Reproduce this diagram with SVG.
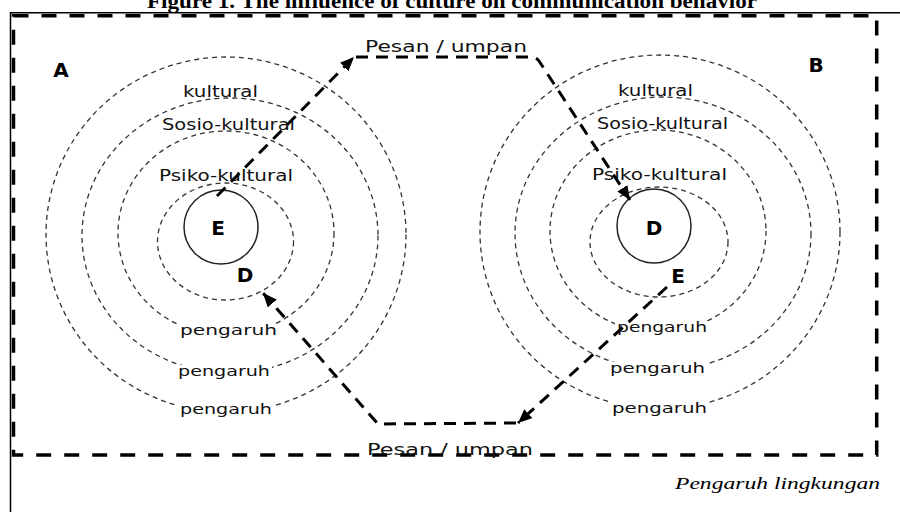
<svg xmlns="http://www.w3.org/2000/svg" width="900" height="512" viewBox="0 0 900 512">
<style>
.ring{fill:none;stroke:#333;stroke-width:1.3;stroke-dasharray:5 4}
.core{fill:none;stroke:#222;stroke-width:1.5}
.lbl{font-family:"DejaVu Sans",Verdana,sans-serif;font-size:15px;fill:#111}
.pg{font-family:"DejaVu Sans",Verdana,sans-serif;font-size:14px;fill:#111}
.big{font-family:"DejaVu Sans",Verdana,sans-serif;font-size:20px;font-weight:bold;fill:#000}
.msg{font-family:"DejaVu Sans",Verdana,sans-serif;font-size:15px;fill:#111}
.conn{fill:none;stroke:#000;stroke-width:3;stroke-dasharray:12 8}
.bg{fill:#fff}
</style>
<defs>
<marker id="ah" markerWidth="16" markerHeight="12" refX="14" refY="6" orient="auto" markerUnits="userSpaceOnUse">
<path d="M0,0 L14,6 L0,12 z" fill="#000"/>
</marker>
</defs>
<rect width="900" height="512" fill="#fff"/>
<text x="452" y="8" text-anchor="middle" font-family="Liberation Serif, serif" font-size="20" font-weight="bold" textLength="610" lengthAdjust="spacingAndGlyphs">Figure 1. The influence of culture on communication behavior</text>
<path d="M10.5,512 V12.7 H900" fill="none" stroke="#000" stroke-width="1.5"/>
<rect x="13.5" y="15.7" width="863.2" height="439.3" fill="none" stroke="#000" stroke-width="3.5" stroke-dasharray="15 13"/>

<g id="nodeA">
<ellipse class="ring" cx="226" cy="234.5" rx="180" ry="177.5"/>
<ellipse class="ring" cx="230" cy="235.5" rx="148" ry="137.5"/>
<ellipse class="ring" cx="226" cy="233" rx="108" ry="102"/>
<ellipse class="ring" cx="225.5" cy="241.5" rx="68" ry="58.5"/>
<circle class="core" cx="221" cy="227" r="37"/>
<text class="big" x="61" y="77" text-anchor="middle">A</text>
<text class="big" x="218" y="235" text-anchor="middle">E</text>
<text class="big" x="245" y="282" text-anchor="middle">D</text>
<text class="lbl" x="183" y="97" textLength="75" lengthAdjust="spacingAndGlyphs">kultural</text>
<text class="lbl" x="162" y="130" textLength="133" lengthAdjust="spacingAndGlyphs">Sosio-kultural</text>
<text class="lbl" x="159" y="181" textLength="134" lengthAdjust="spacingAndGlyphs">Psiko-kultural</text>
<rect class="bg" x="178" y="324" width="101" height="14"/>
<rect class="bg" x="176" y="365" width="96" height="14"/>
<rect class="bg" x="178" y="403" width="96" height="14"/>
<text class="pg" x="180" y="335" textLength="97" lengthAdjust="spacingAndGlyphs">pengaruh</text>
<text class="pg" x="178" y="376" textLength="92" lengthAdjust="spacingAndGlyphs">pengaruh</text>
<text class="pg" x="180" y="414" textLength="92" lengthAdjust="spacingAndGlyphs">pengaruh</text>
</g>

<g id="nodeB">
<ellipse class="ring" cx="660" cy="232" rx="180" ry="177"/>
<ellipse class="ring" cx="663" cy="233.5" rx="148" ry="136.5"/>
<ellipse class="ring" cx="658" cy="231" rx="108" ry="101"/>
<ellipse class="ring" cx="659" cy="242" rx="69" ry="55"/>
<circle class="core" cx="654" cy="226" r="37"/>
<text class="big" x="816" y="72" text-anchor="middle">B</text>
<text class="big" x="654" y="235" text-anchor="middle">D</text>
<text class="big" x="678" y="283" text-anchor="middle">E</text>
<text class="lbl" x="618" y="96" textLength="75" lengthAdjust="spacingAndGlyphs">kultural</text>
<text class="lbl" x="597" y="129" textLength="131" lengthAdjust="spacingAndGlyphs">Sosio-kultural</text>
<text class="lbl" x="592" y="180" textLength="135" lengthAdjust="spacingAndGlyphs">Psiko-kultural</text>
<rect class="bg" x="615" y="321" width="94" height="14"/>
<rect class="bg" x="608" y="362" width="99" height="14"/>
<rect class="bg" x="610" y="402" width="99" height="14"/>
<text class="pg" x="617" y="332" textLength="90" lengthAdjust="spacingAndGlyphs">pengaruh</text>
<text class="pg" x="610" y="373" textLength="95" lengthAdjust="spacingAndGlyphs">pengaruh</text>
<text class="pg" x="612" y="413" textLength="95" lengthAdjust="spacingAndGlyphs">pengaruh</text>
</g>

<g id="connectors">
<path class="conn" d="M217,196 L354,57" marker-end="url(#ah)"/>
<path class="conn" d="M356,57 L533,57 Q537,58 539,61 L630,200" marker-end="url(#ah)"/>
<path class="conn" d="M667,287 L518,423" marker-end="url(#ah)"/>
<path class="conn" d="M516,423 L378,424 L263,293" marker-end="url(#ah)"/>
</g>

<text class="msg" x="365" y="52" textLength="162" lengthAdjust="spacingAndGlyphs">Pesan / umpan</text>
<text class="msg" x="367" y="455" textLength="166" lengthAdjust="spacingAndGlyphs">Pesan / umpan</text>
<text x="675" y="489" font-family="Liberation Serif, serif" font-style="italic" font-size="16" textLength="205" lengthAdjust="spacingAndGlyphs">Pengaruh lingkungan</text>
</svg>
